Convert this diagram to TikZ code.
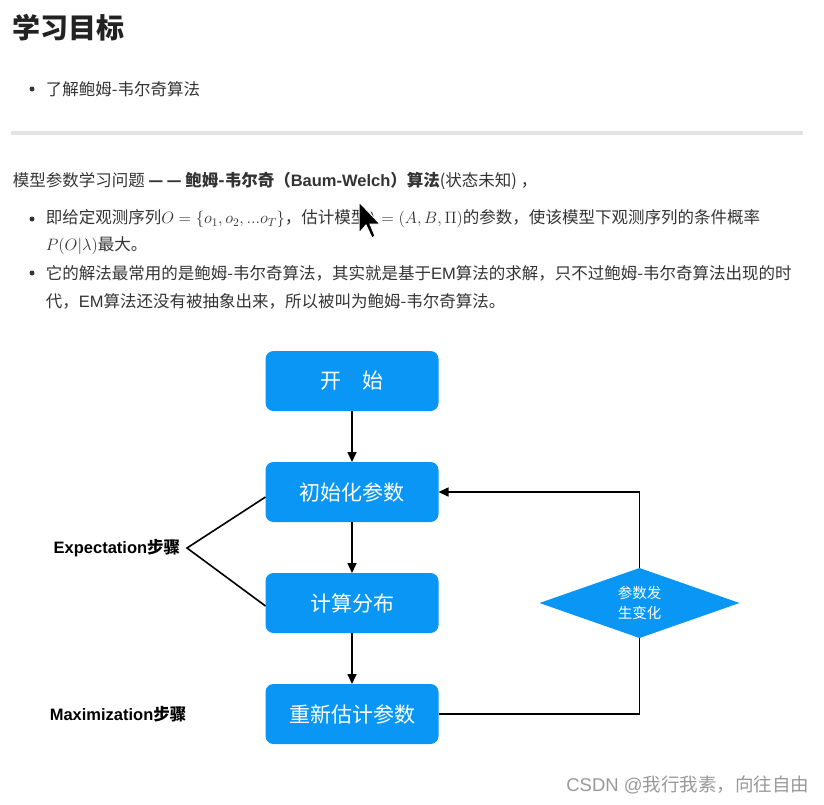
\RequirePackage{fix-cm}
\documentclass[tikz,border=0pt]{standalone}
\usepackage{amsmath}
\usepackage{fontspec}
\setmainfont{Noto Sans CJK SC}
\newfontfamily\latin{Liberation Sans}
\usepackage{xcolor}
\usetikzlibrary{positioning,arrows.meta,shapes.geometric}
\definecolor{flowblue}{HTML}{0A96F5}
\definecolor{inkgray}{HTML}{222222}
\definecolor{bodygray}{HTML}{333333}
\definecolor{rulegray}{HTML}{E3E3E3}
\definecolor{markgray}{HTML}{999999}

\begin{document}
\begin{tikzpicture}[x=1pt, y=-1pt, node distance=51pt,
  stage/.style={fill=flowblue, rounded corners=8pt, minimum width=173pt, minimum height=60pt,
    outer sep=0pt, text=white, font=\fontsize{21}{25}\selectfont},
  check/.style={diamond, aspect=2.86, fill=flowblue, minimum width=200pt, minimum height=70pt,
    outer sep=0pt, inner sep=0pt, text=white, align=center, font=\fontsize{14.5}{20}\selectfont},
  para/.style={anchor=west, inner sep=0pt, text=bodygray, font=\fontsize{16.5}{20}\selectfont},
  side/.style={anchor=west, inner sep=0pt, font=\bfseries\fontsize{16.5}{19}\selectfont},
  dot/.style={circle, fill=bodygray, inner sep=0pt, minimum size=5pt},
  >={Triangle[length=10pt, width=9pt]}, line width=1.6pt]
  \useasboundingbox (0,0) rectangle (824,804);
  % page text
  \node[anchor=west, inner sep=0pt, text=inkgray, font=\bfseries\fontsize{28}{32}\selectfont] (title) at (12,28) {学习目标};
  \node[dot] (dot1) at (32,89) {};
  \node[para] (goal) at (45,89) {了解鲍姆-韦尔奇算法};
  \draw[rulegray, line width=4pt] (11,133) -- (803,133);
  \node[para] (intro) at (12,181) {模型参数学习问题 \textbf{—\hspace{3pt}— 鲍姆-韦尔奇（{\latin Baum-Welch}）算法}(状态未知) ，};
  \node[dot] (dot2) at (32,219) {};
  \node[para] (item1) at (45,219) {即给定观测序列$O=\{o_1,o_2,...o_T\}$，估计模型$\lambda=(A,B,\Pi)$的参数，使该模型下观测序列的条件概率};
  \node[para] (item1b) at (45,246) {$P(O|\lambda)$最大。};
  \node[dot] (dot3) at (32,273) {};
  \node[para] (item2) at (45,273) {它的解法最常用的是鲍姆-韦尔奇算法，其实就是基于{\latin EM}算法的求解，只不过鲍姆-韦尔奇算法出现的时};
  \node[para] (item2b) at (45,301) {代，{\latin EM}算法还没有被抽象出来，所以被叫为鲍姆-韦尔奇算法。};
  % flow chart
  \node[stage] (start) at (352,381) {开\quad 始};
  \node[stage, below=of start] (init) {初始化参数};
  \node[stage, below=of init] (dist) {计算分布};
  \node[stage, below=of dist] (reest) {重新估计参数};
  \node[check, right=101pt of dist] (change) {参数发\\生变化};
  \draw[->] (start) -- (init); \draw[->] (init) -- (dist); \draw[->] (dist) -- (reest);
  \draw (reest) -| (change); \draw[->] (change) |- (init);
  \coordinate (apex) at (187,548);
  \draw ([yshift=-5pt]init.west) -- (apex) -- ([yshift=-3pt]dist.west);
  \node[side, anchor=east] (elabel) at (181,548) {{\latin Expectation}步骤};
  \node[side] (mlabel) at (49,714) {{\latin Maximization}步骤};
  \node[anchor=east, inner sep=0pt, text=markgray, font=\fontsize{18.5}{22}\selectfont] (mark) at (810,785) {{\latin CSDN @}我行我素，向往自由};
  % mouse pointer
  \filldraw[fill=black, draw=white, line width=1pt] (359,202) -- (359,233) -- (366,225) -- (372,238)
    -- (375,236) -- (370,224) -- (380,224) -- cycle;
\end{tikzpicture}
\end{document}
